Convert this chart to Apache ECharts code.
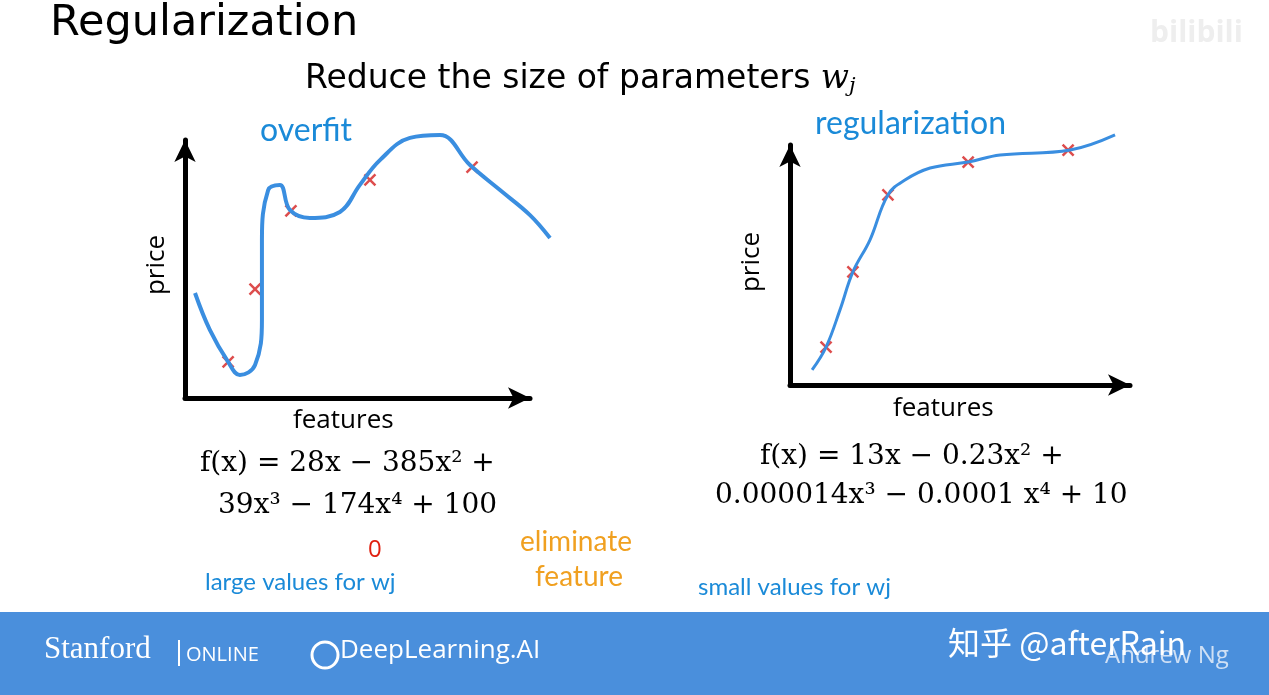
<!DOCTYPE html><html><head><meta charset="utf-8"><script src="https://cdn.jsdelivr.net/npm/echarts@6/dist/echarts.min.js"></script>
<style>html,body{margin:0;background:#fff}#c{width:1269px;height:695px}</style></head><body><div id="c"></div><script>
const overfitCurve=[[2.9,40.7],[7.2,26.4],[12.5,14.0],[15.9,8.9],[20.3,12.8],[22.3,30.2],[22.3,61.2],[24.1,80.6],[27.5,82.6],[30.4,72.9],[36.2,69.8],[44.9,72.1],[50.7,82.6],[56.5,92.2],[65.2,100.8],[73.9,101.9],[82.6,90.3],[91.3,80.6],[100,70.9],[105.8,62]];
const overfitPoints=[[12.5,14.0],[20.3,42.2],[30.7,72.5],[53.6,84.5],[83.2,89.5]];
const regCurve=[[6.5,6.3],[10.6,15.8],[14.7,31.3],[18.5,47.1],[23.5,60.4],[28.8,79.2],[33.8,85.4],[41.2,90.4],[52.4,92.9],[61.8,95.8],[82.4,97.9],[95.6,104.2]];
const regPoints=[[10.6,15.8],[18.5,47.1],[28.8,79.2],[52.4,92.9],[81.8,97.9]];
const cross='path://M0,0L10,10M10,0L0,10';
const blue='#1a8ad8',orange='#f0a020';
const ch=echarts.init(document.getElementById('c'));
const ax=(g)=>({gridIndex:g,min:0,max:100,splitLine:{show:false},axisTick:{show:false},axisLabel:{show:false},axisLine:{symbol:['none','arrow'],symbolSize:[16,22],lineStyle:{color:'#000',width:5}}});
const hid=(g,mx)=>({gridIndex:g,min:0,max:mx,show:false});
const txt=(x,y,t,o)=>({type:'text',x,y,style:Object.assign({text:t,fill:'#000',fontSize:28,fontFamily:'Open Sans'},o||{})});
ch.setOption({animation:false,
grid:[{left:185,top:140,width:345,height:258},{left:790,top:145,width:340,height:240},{left:185,top:114.2,width:379.5,height:283.8},{left:790,top:121,width:374,height:264}],
xAxis:[ax(0),ax(1),hid(2,110),hid(3,110)],yAxis:[ax(0),ax(1),hid(2,110),hid(3,110)],
series:[
{type:'line',xAxisIndex:2,yAxisIndex:2,data:overfitCurve,smooth:0.4,showSymbol:false,lineStyle:{color:'#3a8ee0',width:4}},
{type:'scatter',xAxisIndex:0,yAxisIndex:0,data:overfitPoints,symbol:cross,symbolSize:11,itemStyle:{color:'none',borderColor:'#d42020',borderWidth:2.5}},
{type:'line',xAxisIndex:3,yAxisIndex:3,data:regCurve,smooth:0.4,showSymbol:false,lineStyle:{color:'#3a8ee0',width:3}},
{type:'scatter',xAxisIndex:1,yAxisIndex:1,data:regPoints,symbol:cross,symbolSize:11,itemStyle:{color:'none',borderColor:'#d42020',borderWidth:2.5}}],
graphic:[
txt(50,2,'Regularization',{fontSize:43,fontFamily:'DejaVu Sans'}),
{type:'text',x:305,y:62,style:{text:'Reduce the size of parameters {w|w}{j|j}',fontSize:33,fontFamily:'DejaVu Sans',fill:'#000',rich:{w:{fontSize:33,fontStyle:'italic',fontFamily:'DejaVu Serif'},j:{fontSize:21,fontStyle:'italic',fontFamily:'DejaVu Serif',padding:[14,0,0,0]}}}},
txt(260,115,'overfit',{fill:blue,fontSize:32,fontFamily:'Lato'}),
txt(815,108,'regularization',{fill:blue,fontSize:32,fontFamily:'Lato'}),
{type:'text',x:170,y:265,rotation:Math.PI/2,style:{text:'price',fontSize:26,fontFamily:'Open Sans',fill:'#000',align:'center',verticalAlign:'bottom'}},
{type:'text',x:765,y:262,rotation:Math.PI/2,style:{text:'price',fontSize:26,fontFamily:'Open Sans',fill:'#000',align:'center',verticalAlign:'bottom'}},
txt(293,408,'features',{fontSize:26}),txt(893,396,'features',{fontSize:26}),
txt(200,450,'f(x) = 28x − 385x² +',{fontFamily:'DejaVu Serif',fontSize:28}),
txt(218,492,'39x³ − 174x⁴ + 100',{fontFamily:'DejaVu Serif',fontSize:28}),
txt(760,443,'f(x) = 13x − 0.23x² +',{fontFamily:'DejaVu Serif',fontSize:28}),
txt(715,482,'0.000014x³ − 0.0001 x⁴ + 10',{fontFamily:'DejaVu Serif',fontSize:28}),
txt(368,538,'0',{fill:'#e02010',fontSize:24}),
txt(520,528,'eliminate',{fill:orange,fontSize:28,fontFamily:'Lato'}),
txt(535,563,'feature',{fill:orange,fontSize:28,fontFamily:'Lato'}),
txt(205,570,'large values for wj',{fill:blue,fontSize:24,fontFamily:'Lato'}),
txt(698,575,'small values for wj',{fill:blue,fontSize:24,fontFamily:'Lato'}),
{type:'rect',shape:{x:0,y:612,width:1269,height:83},style:{fill:'#4a8fdc'}},
txt(44,634,'Stanford',{fill:'#fff',fontSize:31,fontFamily:'Liberation Serif'}),
{type:'rect',shape:{x:178,y:640,width:2,height:26},style:{fill:'#fff'}},
txt(186,645,'ONLINE',{fill:'#fff',fontSize:20}),
txt(340,638,'DeepLearning.AI',{fill:'#fff',fontSize:26}),
{type:'circle',shape:{cx:325,cy:655,r:13},style:{fill:'none',stroke:'#fff',lineWidth:3}},
txt(1105,644,'Andrew Ng',{fill:'#cfe0f5',fontSize:24}),
txt(948,627,'知乎 @afterRain',{fill:'#fff',fontSize:32,fontFamily:'Noto Sans CJK SC'}),
txt(1150,18,'bilibili',{fill:'#eee',fontSize:30,fontWeight:'bold'})
]});
</script></body></html>
